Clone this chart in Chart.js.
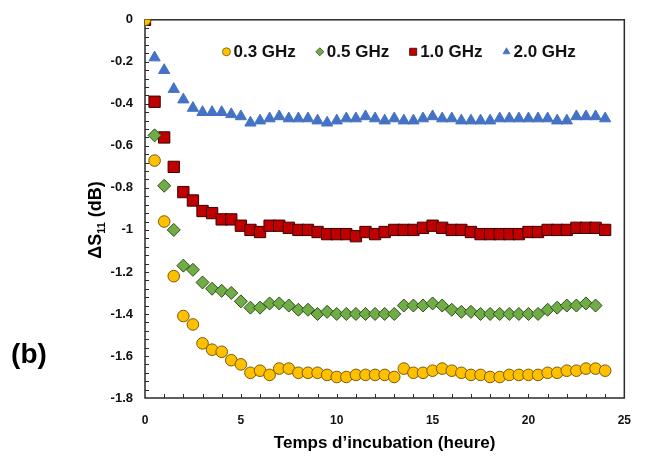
<!DOCTYPE html>
<html>
<head>
<meta charset="utf-8">
<script src="https://cdn.jsdelivr.net/npm/chart.js@4.4.1/dist/chart.umd.min.js"></script>
<style>
  html, body { margin: 0; padding: 0; background: #fff; }
  #wrap { width: 646px; height: 466px; position: relative; }
</style>
</head>
<body>
<div id="wrap"><canvas id="chart"></canvas></div>
<script>
// incubation time, hours
const hours = [0, 0.5, 1, 1.5, 2, 2.5, 3, 3.5, 4, 4.5, 5, 5.5, 6, 6.5, 7, 7.5, 8, 8.5, 9, 9.5,
  10, 10.5, 11, 11.5, 12, 12.5, 13, 13.5, 14, 14.5, 15, 15.5, 16, 16.5, 17, 17.5, 18, 18.5, 19, 19.5,
  20, 20.5, 21, 21.5, 22, 22.5, 23, 23.5, 24];

// delta S11 (dB) per frequency
const ghz03 = [0, -0.67, -0.96, -1.22, -1.41, -1.45, -1.54, -1.57, -1.58, -1.62, -1.64, -1.68, -1.67, -1.69, -1.66, -1.66, -1.68, -1.68, -1.68, -1.69,
  -1.70, -1.70, -1.69, -1.69, -1.69, -1.69, -1.70, -1.66, -1.68, -1.68, -1.67, -1.66, -1.67, -1.68, -1.69, -1.69, -1.70, -1.70, -1.69, -1.69,
  -1.69, -1.69, -1.68, -1.68, -1.67, -1.67, -1.66, -1.66, -1.67];
const ghz05 = [0, -0.55, -0.79, -1.00, -1.17, -1.19, -1.25, -1.28, -1.29, -1.30, -1.34, -1.37, -1.37, -1.35, -1.35, -1.36, -1.38, -1.38, -1.40, -1.39,
  -1.40, -1.40, -1.40, -1.40, -1.40, -1.40, -1.40, -1.36, -1.36, -1.36, -1.35, -1.36, -1.38, -1.39, -1.39, -1.40, -1.40, -1.40, -1.40, -1.40,
  -1.40, -1.40, -1.38, -1.37, -1.36, -1.36, -1.35, -1.36, null];
const ghz10 = [0, -0.39, -0.56, -0.70, -0.82, -0.86, -0.91, -0.92, -0.95, -0.95, -0.98, -1.00, -1.01, -0.98, -0.98, -0.99, -1.00, -1.00, -1.01, -1.02,
  -1.02, -1.02, -1.03, -1.01, -1.02, -1.01, -1.00, -1.00, -1.00, -0.99, -0.98, -0.99, -1.00, -1.00, -1.01, -1.02, -1.02, -1.02, -1.02, -1.02,
  -1.01, -1.01, -1.00, -1.00, -1.00, -0.99, -0.99, -0.99, -1.00];
const ghz20 = [0, -0.18, -0.24, -0.33, -0.38, -0.42, -0.44, -0.44, -0.44, -0.45, -0.46, -0.49, -0.48, -0.47, -0.46, -0.47, -0.47, -0.47, -0.48, -0.49,
  -0.48, -0.47, -0.47, -0.46, -0.47, -0.48, -0.47, -0.48, -0.48, -0.47, -0.46, -0.47, -0.47, -0.48, -0.48, -0.48, -0.48, -0.47, -0.47, -0.47,
  -0.47, -0.47, -0.47, -0.48, -0.48, -0.46, -0.46, -0.46, -0.47];

const seriesNames = ['0.3 GHz', '0.5 GHz', '1.0 GHz', '2.0 GHz'];
const xTicks = [0, 5, 10, 15, 20, 25];
const yTicks = [0, -0.2, -0.4, -0.6, -0.8, -1, -1.2, -1.4, -1.6, -1.8];

const sans = '"Liberation Sans", Arial, sans-serif';

function toPoints(values) {
  return hours.map((h, i) => ({ x: h, y: values[i] })).filter(p => p.y !== null);
}

// box around the plot + small inside ticks (Excel style)
const frame = {
  id: 'frame',
  beforeDatasetsDraw(chart) {
    const { ctx, chartArea: a, scales: { x, y } } = chart;
    ctx.save();
    ctx.strokeStyle = '#2a2a2a';
    ctx.lineWidth = 1.5;
    ctx.strokeRect(a.left, a.top, a.right - a.left, a.bottom - a.top);
    ctx.lineWidth = 1;
    ctx.beginPath();
    for (let v = 1; v < 25; v++) {
      const px = Math.round(x.getPixelForValue(v)) + 0.5;
      ctx.moveTo(px, a.bottom);
      ctx.lineTo(px, a.bottom - 4);
    }
    for (let k = 1; k < 45; k++) {
      const py = Math.round(y.getPixelForValue(-k * 0.04)) + 0.5;
      ctx.moveTo(a.left, py);
      ctx.lineTo(a.left + 4, py);
    }
    ctx.stroke();
    ctx.restore();
  },
  afterDraw(chart) {
    const { ctx, chartArea: a } = chart;
    ctx.save();
    ctx.fillStyle = '#000';

    // y title with subscript
    ctx.translate(95, 220);
    ctx.rotate(-Math.PI / 2);
    ctx.textBaseline = 'alphabetic';
    const big = 'bold 18px ' + sans, small = 'bold 11px ' + sans;
    ctx.font = big; const w1 = ctx.measureText('\u0394S').width;
    ctx.font = small; const w2 = ctx.measureText('11').width;
    ctx.font = big; const w3 = ctx.measureText(' (dB)').width;
    let sx = -(w1 + w2 + w3) / 2;
    ctx.font = big; ctx.fillText('\u0394S', sx, 6); sx += w1;
    ctx.font = small; ctx.fillText('11', sx, 10); sx += w2;
    ctx.font = big; ctx.fillText(' (dB)', sx, 6);
    ctx.restore();

    ctx.save();
    ctx.fillStyle = '#000';
    ctx.font = 'bold 28px ' + sans;
    ctx.textAlign = 'center';
    ctx.textBaseline = 'middle';
    ctx.fillText('(b)', 29, 355);

    // legend inside plot area
    ctx.font = 'bold 17px ' + sans;
    ctx.textAlign = 'left';
    const gap = 21, mark = 6;
    const widths = seriesNames.map(n => ctx.measureText(n).width);
    const total = widths.reduce((s, w) => s + w + mark + 4, 0) + gap * (seriesNames.length - 1);
    let lx = (a.left + a.right) / 2 + 15 - total / 2;
    const ly = a.top + 32;
    chart.data.datasets.forEach((ds, i) => {
      const r = ds.pointStyle === 'rect' ? 5 : 4;
      ctx.fillStyle = ds.pointBackgroundColor;
      ctx.strokeStyle = ds.pointBorderColor;
      ctx.lineWidth = 0.8;
      Chart.helpers.drawPoint(ctx, { pointStyle: ds.pointStyle, radius: r, rotation: 0, borderWidth: 0.8 }, lx + 3, ly);
      ctx.fillStyle = '#111';
      ctx.fillText(seriesNames[i], lx + mark + 4, ly + 1);
      lx += widths[i] + mark + 4 + gap;
    });
    ctx.restore();
  }
};

function series(label, values, style, fill, edge, r) {
  return {
    label, data: toPoints(values), showLine: false,
    pointStyle: style, pointRadius: r, pointHoverRadius: r,
    pointBackgroundColor: fill, pointBorderColor: edge, pointBorderWidth: 1,
    backgroundColor: fill, borderColor: edge
  };
}

new Chart(document.getElementById('chart'), {
  type: 'scatter',
  data: {
    datasets: [
      series(seriesNames[0], ghz03, 'circle', '#FFC000', '#7a5a00', 5.8),
      series(seriesNames[1], ghz05, 'rectRot', '#70AD47', '#2f4d1c', 6.5),
      series(seriesNames[2], ghz10, 'rect', '#C00000', '#3a0000', 8),
      series(seriesNames[3], ghz20, 'triangle', '#4472C4', '#4472C4', 6.5)
    ]
  },
  options: {
    responsive: true,
    maintainAspectRatio: false,
    animation: false,
    layout: { autoPadding: false, padding: { top: 17, right: 7, left: 0, bottom: 0 } },
    plugins: { legend: { display: false }, tooltip: { enabled: false } },
    scales: {
      x: {
        type: 'linear', min: 0, max: 25,
        afterBuildTicks: s => { s.ticks = xTicks.map(v => ({ value: v })); },
        afterFit: s => { s.height = 68; },
        grid: { display: false, drawTicks: false },
        border: { display: false },
        ticks: { padding: 15, color: '#111', font: { family: sans, size: 12, weight: 'bold' }, maxRotation: 0 },
        title: {
          display: true, text: 'Temps d\u2019incubation (heure)', color: '#000',
          font: { family: sans, size: 17, weight: 'bold' }, padding: { top: 0, bottom: 12 }
        }
      },
      y: {
        type: 'linear', min: -1.8, max: 0,
        afterBuildTicks: s => { s.ticks = yTicks.map(v => ({ value: v })); },
        afterFit: s => { s.width = 145; },
        grid: { display: false, drawTicks: false },
        border: { display: false },
        ticks: {
          padding: 12, color: '#111', font: { family: sans, size: 13, weight: 'bold' },
          callback: v => String(Number(v.toFixed(1)))
        }
      }
    }
  },
  plugins: [frame]
});
</script>
</body>
</html>
